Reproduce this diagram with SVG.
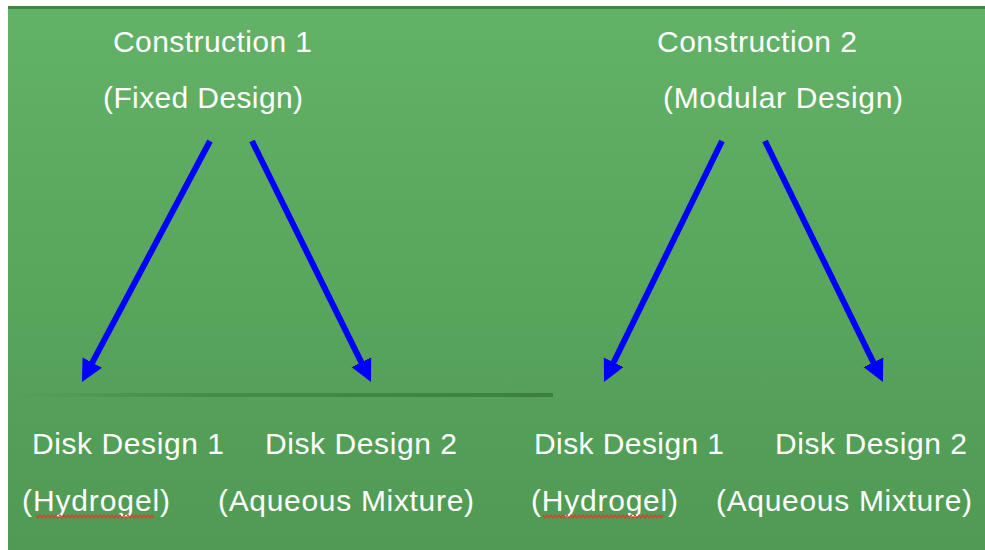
<svg xmlns="http://www.w3.org/2000/svg" width="985" height="550" viewBox="0 0 985 550">
  <style>
    .lbl { font-family: "Liberation Sans", Arial, sans-serif; font-size: 30px; fill: #ffffff; }
    .arrow { stroke: #0000ff; stroke-width: 6; fill: none; stroke-linecap: butt; marker-end: url(#head); }
    .squiggle { stroke: #e8342c; stroke-width: 1.2; fill: none; }
  </style>
  <defs>
    <linearGradient id="panel" x1="0" y1="0" x2="0" y2="1">
      <stop offset="0" stop-color="#62b267"/>
      <stop offset="1" stop-color="#509a54"/>
    </linearGradient>
    <linearGradient id="divider" x1="0" y1="0" x2="1" y2="0">
      <stop offset="0" stop-color="#3b7a41" stop-opacity="0"/>
      <stop offset="0.35" stop-color="#3b7a41" stop-opacity="0.55"/>
      <stop offset="1" stop-color="#3b7a41" stop-opacity="0.9"/>
    </linearGradient>
    <marker id="head" markerUnits="userSpaceOnUse" markerWidth="24" markerHeight="24" viewBox="0 0 24 24" refX="10" refY="12" orient="auto">
      <path d="M0,1 L22,12 L0,23 Z" fill="#0000ff"/>
    </marker>
  </defs>

  <!-- page and slide panel -->
  <rect x="0" y="0" width="985" height="550" fill="#ffffff"/>
  <rect x="8" y="6" width="977" height="544" fill="url(#panel)"/>
  <rect x="8" y="6" width="977" height="3" fill="#3f8745"/>
  <rect x="8" y="393" width="545" height="4" fill="url(#divider)"/>

  <!-- constructions -->
  <g id="construction1">
    <text class="lbl" x="113" y="52" textLength="199" lengthAdjust="spacing">Construction 1</text>
    <text class="lbl" x="103" y="108" textLength="200" lengthAdjust="spacing">(Fixed Design)</text>
  </g>
  <g id="construction2">
    <text class="lbl" x="657" y="52" textLength="200" lengthAdjust="spacing">Construction 2</text>
    <text class="lbl" x="663" y="108" textLength="240" lengthAdjust="spacing">(Modular Design)</text>
  </g>

  <!-- disk designs, fixed construction -->
  <g id="c1-disk1">
    <text class="lbl" x="32" y="454" textLength="192" lengthAdjust="spacing">Disk Design 1</text>
    <text class="lbl" x="22" y="511" textLength="148" lengthAdjust="spacing">(Hydrogel)</text>
    <polyline class="squiggle" points="36,515 38,518 40,515 42,518 44,515 46,518 48,515 50,518 52,515 54,518 56,515 58,518 60,515 62,518 64,515 66,518 68,515 70,518 72,515 74,518 76,515 78,518 80,515 82,518 84,515 86,518 88,515 90,518 92,515 94,518 96,515 98,518 100,515 102,518 104,515 106,518 108,515 110,518 112,515 114,518 116,515 118,518 120,515 122,518 124,515 126,518 128,515 130,518 132,515 134,518 136,515 138,518 140,515 142,518 144,515 146,518 148,515 150,518 152,515 154,518"/>
  </g>
  <g id="c1-disk2">
    <text class="lbl" x="265" y="454" textLength="192" lengthAdjust="spacing">Disk Design 2</text>
    <text class="lbl" x="218" y="511" textLength="256" lengthAdjust="spacing">(Aqueous Mixture)</text>
  </g>

  <!-- disk designs, modular construction -->
  <g id="c2-disk1">
    <text class="lbl" x="534" y="454" textLength="190" lengthAdjust="spacing">Disk Design 1</text>
    <text class="lbl" x="531" y="511" textLength="147" lengthAdjust="spacing">(Hydrogel)</text>
    <polyline class="squiggle" points="543,515 545,518 547,515 549,518 551,515 553,518 555,515 557,518 559,515 561,518 563,515 565,518 567,515 569,518 571,515 573,518 575,515 577,518 579,515 581,518 583,515 585,518 587,515 589,518 591,515 593,518 595,515 597,518 599,515 601,518 603,515 605,518 607,515 609,518 611,515 613,518 615,515 617,518 619,515 621,518 623,515 625,518 627,515 629,518 631,515 633,518 635,515 637,518 639,515 641,518 643,515 645,518 647,515 649,518 651,515 653,518 655,515 657,518 659,515 661,518 663,515"/>
  </g>
  <g id="c2-disk2">
    <text class="lbl" x="775" y="454" textLength="192" lengthAdjust="spacing">Disk Design 2</text>
    <text class="lbl" x="716" y="511" textLength="256" lengthAdjust="spacing">(Aqueous Mixture)</text>
  </g>

  <!-- connectors -->
  <g id="connectors">
    <line class="arrow" x1="210" y1="141" x2="87.6" y2="371.4"/>
    <line class="arrow" x1="252" y1="141" x2="365.7" y2="371.2"/>
    <line class="arrow" x1="722" y1="141" x2="609.3" y2="371.2"/>
    <line class="arrow" x1="765" y1="141" x2="877.7" y2="371.2"/>
  </g>
</svg>
